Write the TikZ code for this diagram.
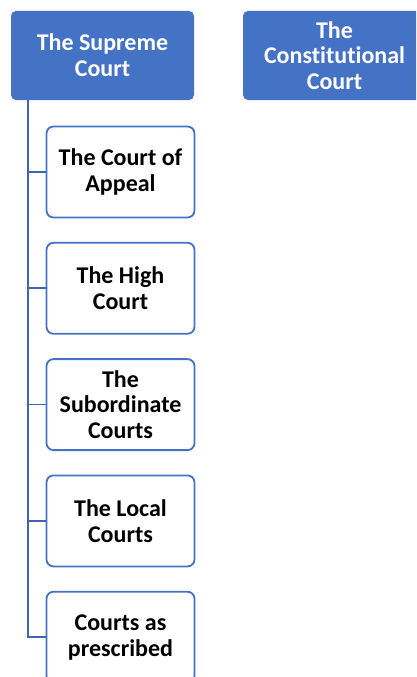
\documentclass[tikz,border=0pt]{standalone}
\usepackage{fontspec}
\setmainfont[Ligatures=NoCommon]{Carlito}
\usetikzlibrary{positioning}
\definecolor{courtblue}{HTML}{4472C4}
\definecolor{linkblue}{HTML}{3F65AE}
\tikzset{
  x=1pt, y=-1pt,
  node distance=23.5pt,
  every node/.style={font=\fontsize{24}{25.7}\selectfont\bfseries, align=center},
  topcourt/.style={rounded corners=5pt, fill=courtblue, text=white,
    minimum width=183pt, minimum height=89pt, inner sep=2pt},
  lowcourt/.style={rounded corners=7pt, draw=courtblue, line width=1.8pt,
    fill=white, text=black, minimum width=148pt, minimum height=91pt, inner sep=2pt},
  link/.style={draw=linkblue, line width=2.2pt}
}
\begin{document}
\begin{tikzpicture}
  \clip (0,0) rectangle (416,677);
  \fill[white] (0,0) rectangle (416,677);
  \node[topcourt] (supreme) at (102.5,55.5) {The Supreme\\Court};
  \node[topcourt] (const) at (334.5,55.5) {The\\Constitutional\\Court};
  \node[lowcourt] (appeal) at (120.5,172) {The Court of\\Appeal};
  \node[lowcourt, below=of appeal] (high) {The High\\Court};
  \node[lowcourt, below=of high] (sub) {The\\Subordinate\\Courts};
  \node[lowcourt, below=of sub] (local) {The Local\\Courts};
  \node[lowcourt, below=of local] (presc) {Courts as\\prescribed};
  % connectors
  \coordinate (trunk) at (28,100);
  \draw[link] (trunk) |- (presc.west);
  \foreach \c in {appeal,high,sub,local}
    \draw[link, line width=1.7pt] (trunk |- \c.west) -- (\c.west);
\end{tikzpicture}
\end{document}
